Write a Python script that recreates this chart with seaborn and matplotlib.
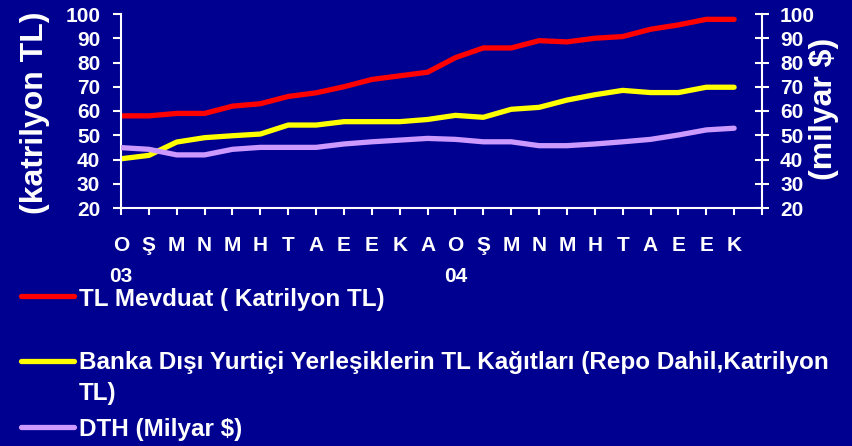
import numpy as np
import matplotlib
matplotlib.use("Agg")
import matplotlib.pyplot as plt
from matplotlib.lines import Line2D
import seaborn as sns

# ---------------- datos ----------------
aylar = ["O\n03", "Ş", "M", "N", "M", "H", "T", "A", "E", "E", "K", "A",
         "O\n04", "Ş", "M", "N", "M", "H", "T", "A", "E", "E", "K"]

tl_mevduat = [58, 58, 59, 59, 62, 63, 66, 67.5, 70, 73, 74.5, 76,
              82, 86, 86, 89, 88.5, 90, 90.7, 93.7, 95.5, 97.8, 97.8]

banka_disi = [40.3, 41.7, 47.2, 49, 49.8, 50.5, 54.2, 54.2, 55.6, 55.6, 55.6, 56.5,
              58.2, 57.4, 60.7, 61.5, 64.5, 66.7, 68.5, 67.6, 67.6, 69.8, 69.8]

dth = [44.9, 44.2, 41.9, 41.9, 44.2, 45, 45, 45, 46.4, 47.3, 48, 48.7,
       48.3, 47.3, 47.3, 45.7, 45.7, 46.4, 47.3, 48.3, 50.1, 52.2, 52.9]

seri_adlari = ["TL Mevduat ( Katrilyon TL)",
               "Banka Dışı Yurtiçi Yerleşiklerin TL Kağıtları (Repo Dahil,Katrilyon\nTL)",
               "DTH (Milyar $)"]
renkler = ["#FF0000", "#FFFF00", "#CC99FF"]

# ---------------- estilo ----------------
sns.set_style("ticks")
plt.rcParams['font.family'] = ['Liberation Sans', 'DejaVu Sans']
plt.rcParams['font.weight'] = 'bold'
fondo = "#000090"

fig = plt.figure(figsize=(8.53, 4.46), dpi=100, facecolor=fondo)
ax = fig.add_axes([121 / 853, 1 - 208 / 446, (762 - 121) / 853, (208 - 14) / 446])
ax.set_facecolor(fondo)
ax2 = ax.twinx()
ax2.patch.set_alpha(0)

x = np.arange(len(aylar))
sns.lineplot(x=x, y=tl_mevduat, ax=ax, color=renkler[0], linewidth=3.8)
sns.lineplot(x=x, y=banka_disi, ax=ax, color=renkler[1], linewidth=3.8)
sns.lineplot(x=x, y=dth, ax=ax2, color=renkler[2], linewidth=3.8)

for a in (ax, ax2):
    a.set_xlim(0, len(aylar))
    a.set_ylim(20, 100)
    a.set_yticks(range(20, 101, 10))
    for s in a.spines.values():
        s.set_visible(False)

ax.spines['left'].set_visible(True)
ax.spines['bottom'].set_visible(True)
ax2.spines['right'].set_visible(True)
for s in (ax.spines['left'], ax.spines['bottom'], ax2.spines['right']):
    s.set_color('white')
    s.set_linewidth(1.5)

# eje x: meses, con el año debajo de cada enero
ax.set_xticks(range(len(aylar) + 1))
ax.set_xticklabels(aylar + [""], linespacing=1.8)
ax.tick_params(axis='x', colors='white', labelsize=15, length=5, width=1.5, pad=15)
ax.tick_params(axis='y', colors='white', labelsize=15, length=6, width=1.5, pad=9)
ax2.tick_params(axis='y', colors='white', labelsize=15, length=10, width=1.5,
                direction='inout', pad=8)
for lbl in ax.get_xticklabels() + ax.get_yticklabels() + ax2.get_yticklabels():
    lbl.set_fontweight('bold')

ax.set_ylabel("")
ax2.set_ylabel("")
fig.text(35 / 853, 1 - 113 / 446, "(katrilyon TL)", rotation=90, color='white',
         fontsize=23, fontweight='bold', ha='center', va='center')
fig.text(824 / 853, 1 - 109 / 446, "(milyar $)", rotation=90, color='white',
         fontsize=23, fontweight='bold', ha='center', va='center')

# ---------------- leyenda ----------------
lineas_y = [296, 361, 427]
bases_y = [306, 369, 436]
for nombre, renk, ly, by in zip(seri_adlari, renkler, lineas_y, bases_y):
    fig.add_artist(Line2D([21 / 853, 74 / 853], [1 - ly / 446, 1 - ly / 446],
                          color=renk, linewidth=3.8, solid_capstyle='round',
                          transform=fig.transFigure))
    satirlar = nombre.split("\n")
    for i, satir in enumerate(satirlar):
        fig.text(79 / 853, 1 - (by + 31 * i) / 446, satir, color='white',
                 fontsize=17.5, fontweight='bold', ha='left', va='baseline')

fig.savefig("out.png", dpi=100, facecolor=fondo)
